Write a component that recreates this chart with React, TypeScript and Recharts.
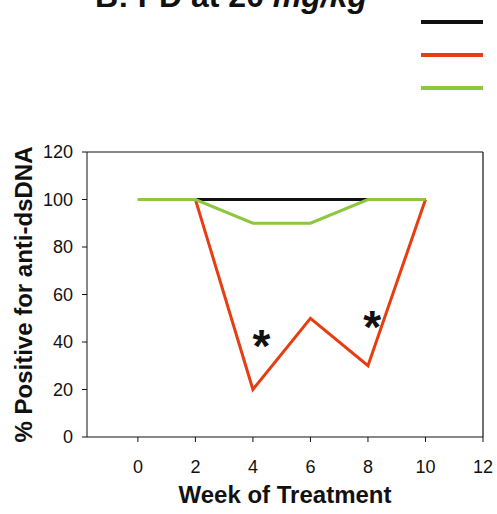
import {
  LineChart,
  Line,
  XAxis,
  YAxis,
  Legend,
  Label,
  ReferenceDot,
  ReferenceLine,
} from "recharts";

/* weekly % positive for anti-dsDNA */
const weeks = [0, 2, 4, 6, 8, 10];
const controlPct = [100, 100, 100, 100, 100, 100];
const highDosePct = [100, 100, 20, 50, 30, 100];
const lowDosePct = [100, 100, 90, 90, 100, 100];

const xTicks = [0, 2, 4, 6, 8, 10, 12];
const yTicks = [0, 20, 40, 60, 80, 100, 120];

/* significance markers */
const starWeek = [4.3, 8.15];
const starPct = [41, 49];

const X_MIN = -1.77;
const X_MAX = 12;
const Y_MAX = 120;

const FONT = "'Liberation Sans', Arial, sans-serif";
const INK = "#111";

const data = weeks.map((w, i) => ({
  week: w,
  control: controlPct[i],
  high: highDosePct[i],
  low: lowDosePct[i],
}));

function LegendLines({ payload }: any) {
  return (
    <div>
      {(payload || []).map((p: any, i: number) => (
        <div
          key={i}
          style={{ width: 62, height: 4, background: p.color, marginBottom: 29 }}
        />
      ))}
    </div>
  );
}

export default function App() {
  return (
    <div
      style={{
        position: "absolute",
        left: 0,
        top: 0,
        width: 497,
        height: 514,
        overflow: "hidden",
        background: "#fff",
        fontFamily: FONT,
      }}
    >
      <div
        style={{
          position: "absolute",
          left: 95,
          top: -20,
          fontSize: 32,
          lineHeight: "32px",
          fontWeight: "bold",
          color: INK,
          whiteSpace: "nowrap",
        }}
      >
        B: PD at 20 <i>mg/kg</i>
      </div>
      <LineChart
        width={497}
        height={514}
        data={data}
        margin={{ top: 152, right: 14, left: 0, bottom: 0 }}
      >
        <XAxis
          dataKey="week"
          type="number"
          domain={[X_MIN, X_MAX]}
          ticks={xTicks}
          allowDataOverflow
          height={77}
          stroke={INK}
          tickSize={5}
          tickMargin={18}
          tick={{ fontSize: 18, fill: INK, fontFamily: FONT }}
        >
          <Label
            value="Week of Treatment"
            position="insideBottom"
            offset={11}
            style={{ fontSize: 24, fontWeight: "bold", fill: INK, fontFamily: FONT }}
          />
        </XAxis>
        <YAxis
          type="number"
          domain={[0, Y_MAX]}
          ticks={yTicks}
          width={87}
          stroke={INK}
          tickSize={5}
          tickMargin={9}
          tick={{ fontSize: 18, fill: INK, fontFamily: FONT }}
        >
          <Label
            value="% Positive for anti-dsDNA"
            angle={-90}
            position="insideLeft"
            offset={23}
            style={{
              fontSize: 24,
              fontWeight: "bold",
              fill: INK,
              fontFamily: FONT,
              textAnchor: "middle",
            }}
          />
        </YAxis>
        {/* box frame, top and right */}
        <ReferenceLine y={Y_MAX} stroke={INK} strokeWidth={1.2} ifOverflow="visible" />
        <ReferenceLine x={X_MAX} stroke={INK} strokeWidth={1.2} ifOverflow="visible" />
        <Line
          dataKey="control"
          name="Vehicle"
          stroke={INK}
          strokeWidth={3}
          dot={false}
          isAnimationActive={false}
        />
        <Line
          dataKey="high"
          name="PD high"
          stroke="#e63e12"
          strokeWidth={3}
          dot={false}
          isAnimationActive={false}
        />
        <Line
          dataKey="low"
          name="PD low"
          stroke="#8dc63f"
          strokeWidth={3}
          dot={false}
          isAnimationActive={false}
        />
        {starWeek.map((w, i) => (
          <ReferenceDot
            key={i}
            x={w}
            y={starPct[i]}
            r={0}
            fill="none"
            stroke="none"
          >
            <Label
              value="*"
              position="center"
              dy={6}
              style={{ fontSize: 46, fontWeight: "bold", fill: INK, fontFamily: FONT }}
            />
          </ReferenceDot>
        ))}
        <Legend
          layout="vertical"
          align="center"
          verticalAlign="middle"
          itemSorter="dataKey"
          content={<LegendLines />}
          wrapperStyle={{ left: 421, top: 20, width: 62, height: 80 }}
        />
      </LineChart>
    </div>
  );
}
